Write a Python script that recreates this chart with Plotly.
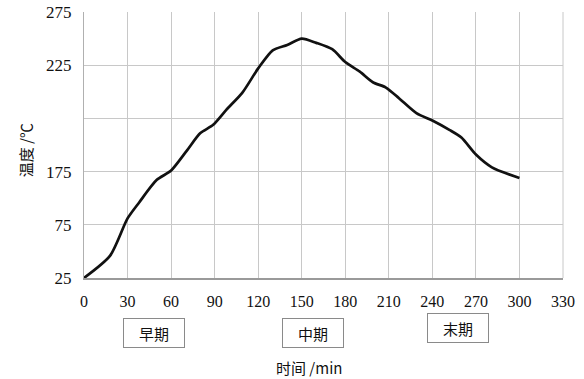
import plotly.graph_objects as go

time_min = [0, 18, 30, 38, 50, 60, 71, 80, 89, 98, 109, 120, 130, 140, 150, 160, 171, 180,
            190, 199, 208, 217, 229, 240, 252, 260, 270, 281, 300]
temperature = [25, 46, 81, 96, 117, 126, 145, 161, 169, 183, 199, 222, 239, 244, 250, 246, 240,
               228, 219, 209, 204, 194, 180, 173, 164, 157, 141, 129, 119]

x_ticks = [0, 30, 60, 90, 120, 150, 180, 210, 240, 270, 300, 330]
y_tickvals = [25, 75, 125, 175, 225, 275]
y_ticktext = ["25", "75", "175", "", "225", "275"]

stage_labels = ["早期", "中期", "末期"]
stage_x = [48, 158, 258]

serif = "Liberation Serif, Times New Roman, serif"
cjk = "Noto Sans CJK SC, sans-serif"

fig = go.Figure()
fig.add_trace(go.Scatter(x=time_min, y=temperature, mode="lines",
                         line=dict(color="#111111", width=2.7, shape="spline", smoothing=0.7),
                         showlegend=False, hoverinfo="skip"))

fig.update_layout(
    width=584, height=379,
    margin=dict(l=84, r=21, t=12, b=101, autoexpand=False),
    paper_bgcolor="white", plot_bgcolor="white",
    font=dict(family=serif, size=16, color="#111111"),
)
fig.update_xaxes(range=[0, 330], tickvals=x_ticks, showgrid=True, gridcolor="#c8c8c8", gridwidth=1,
                 showline=True, linecolor="#9a9a9a", linewidth=1.5, mirror=False,
                 zeroline=False, ticks="", ticklabelstandoff=8,
                 tickfont=dict(family=serif, size=16))
fig.update_yaxes(range=[25, 275], tickvals=y_tickvals, ticktext=y_ticktext,
                 showgrid=True, gridcolor="#c8c8c8", gridwidth=1,
                 showline=True, linecolor="#b0b0b0", linewidth=1, zeroline=False,
                 ticks="", ticklabelstandoff=8, tickfont=dict(family=serif, size=17))

# right border line
fig.add_shape(type="line", xref="paper", yref="paper", x0=1, x1=1, y0=0, y1=1,
              line=dict(color="#c8c8c8", width=1))

for i, (lab, xv) in enumerate(zip(stage_labels, stage_x)):
    yv = -0.188 if i == 2 else -0.207
    fig.add_annotation(x=xv, y=yv, xref="x", yref="paper", text=lab, showarrow=False,
                       font=dict(family=cjk, size=15, color="#111111"),
                       width=58, height=26, bordercolor="#8a8a8a", borderwidth=1,
                       bgcolor="white", yanchor="middle")

fig.add_annotation(x=0.47, y=-89 / 266, xref="paper", yref="paper", text="时间 /min",
                   showarrow=False, yanchor="middle",
                   font=dict(family=cjk, size=15, color="#111111"))
fig.add_annotation(x=-59 / 479, y=0.48, xref="paper", yref="paper", text="温度 /℃",
                   showarrow=False, textangle=-90, xanchor="center", yanchor="middle",
                   font=dict(family=cjk, size=15, color="#111111"))

fig.write_html("out.html", config={"displayModeBar": False, "staticPlot": True},
               post_script="document.body.style.margin='0';document.body.style.overflow='hidden';")
